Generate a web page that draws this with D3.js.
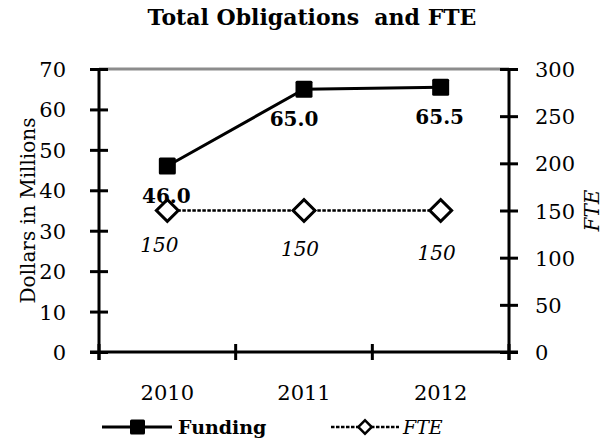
<!DOCTYPE html>
<html>
<head>
<meta charset="utf-8">
<script src="https://cdn.jsdelivr.net/npm/d3@7"></script>
<style>
  body { margin: 0; background: #fff; }
  svg { display: block; }
  text { font-family: "DejaVu Serif", serif; fill: #000; }
</style>
</head>
<body>
<div id="chart"></div>
<script>
// chart data
var years = ["2010", "2011", "2012"];
var funding = [46.0, 65.0, 65.5];
var fte = [150, 150, 150];
var leftTicks = [0, 10, 20, 30, 40, 50, 60, 70];
var rightTicks = [0, 50, 100, 150, 200, 250, 300];

var width = 613, height = 444;
var margin = {top: 69, right: 104, bottom: 92, left: 99};
var plotW = width - margin.left - margin.right,
    plotH = height - margin.top - margin.bottom;

var svg = d3.select("#chart").append("svg")
    .attr("width", width)
    .attr("height", height);

var x = d3.scaleBand().domain(years).range([0, plotW]).padding(0);
var yL = d3.scaleLinear().domain([0, 70]).range([plotH, 0]);
var yR = d3.scaleLinear().domain([0, 300]).range([plotH, 0]);

// title (double space kept as in the original)
svg.append("text")
    .attr("x", 312).attr("y", 25)
    .attr("text-anchor", "middle")
    .style("font-weight", "bold")
    .style("font-size", "22px")
    .style("white-space", "pre")
    .text("Total Obligations  and FTE");

var g = svg.append("g")
    .attr("transform", "translate(" + margin.left + "," + margin.top + ")");

// top gridline (gray)
g.append("line")
    .attr("x1", 0).attr("x2", plotW)
    .attr("y1", yL(70)).attr("y2", yL(70))
    .style("stroke", "#8c8c8c")
    .style("stroke-width", 3);

// left axis
var leftAxis = g.append("g").attr("class", "y axis")
    .call(d3.axisLeft(yL).tickValues(leftTicks).tickSize(0).tickPadding(0));
leftAxis.select(".domain").remove();
leftAxis.selectAll(".tick line")
    .attr("x1", -9).attr("x2", 9)
    .style("stroke", "#000").style("stroke-width", 3);
leftAxis.selectAll(".tick text")
    .attr("x", -33).attr("dy", "0.36em")
    .style("font-size", "21px").style("font-family", "DejaVu Serif");
leftAxis.append("line")
    .attr("x1", 0).attr("x2", 0).attr("y1", -1).attr("y2", plotH + 8)
    .style("stroke", "#000").style("stroke-width", 3);

// right axis
var rightAxis = g.append("g").attr("class", "y axis")
    .attr("transform", "translate(" + plotW + ",0)")
    .call(d3.axisRight(yR).tickValues(rightTicks).tickSize(0).tickPadding(0));
rightAxis.select(".domain").remove();
rightAxis.selectAll(".tick line")
    .attr("x1", -9).attr("x2", 9)
    .style("stroke", "#000").style("stroke-width", 3);
rightAxis.selectAll(".tick text")
    .attr("x", 26).attr("dy", "0.36em")
    .style("font-size", "21px").style("font-family", "DejaVu Serif");
rightAxis.append("line")
    .attr("x1", 0).attr("x2", 0).attr("y1", -1).attr("y2", plotH + 8)
    .style("stroke", "#000").style("stroke-width", 3);

// bottom axis: labels at category centres, ticks at boundaries
var bottomAxis = g.append("g")
    .attr("transform", "translate(0," + plotH + ")")
    .call(d3.axisBottom(x).tickSize(0).tickPadding(0));
bottomAxis.select(".domain").remove();
bottomAxis.selectAll(".tick text")
    .attr("y", 48).attr("dy", 0)
    .style("font-size", "21px").style("font-family", "DejaVu Serif");
bottomAxis.append("line")
    .attr("x1", -9).attr("x2", plotW + 9)
    .style("stroke", "#000").style("stroke-width", 3);
var bounds = years.map(function(d) { return x(d); }).concat([plotW]);
bottomAxis.selectAll(".bound")
    .data(bounds)
  .enter().append("line")
    .attr("class", "bound")
    .attr("x1", function(d) { return d; })
    .attr("x2", function(d) { return d; })
    .attr("y1", -8).attr("y2", 8)
    .style("stroke", "#000").style("stroke-width", 3);

// axis titles
svg.append("text")
    .attr("transform", "translate(35," + (margin.top + plotH / 2) + ") rotate(-90)")
    .attr("text-anchor", "middle")
    .style("font-size", "20px")
    .text("Dollars in Millions");
svg.append("text")
    .attr("transform", "translate(599," + (margin.top + plotH / 2) + ") rotate(-90)")
    .attr("text-anchor", "middle")
    .style("font-size", "20px")
    .style("font-style", "italic")
    .text("FTE");

var cx = function(d, i) { return x(years[i]) + x.bandwidth() / 2; };

// FTE series (dashed, hollow diamonds)
var fteLine = d3.line()
    .x(function(d, i) { return cx(d, i); })
    .y(function(d) { return yR(d); });
g.append("path")
    .datum(fte)
    .attr("d", fteLine)
    .style("fill", "none")
    .style("stroke", "#000")
    .style("stroke-width", 2.5)
    .style("stroke-dasharray", "3.5,1.5");
var diamond = d3.symbol().type(d3.symbolSquare).size(240);
g.selectAll(".fte-pt")
    .data(fte)
  .enter().append("path")
    .attr("class", "fte-pt")
    .attr("d", diamond)
    .attr("transform", function(d, i) {
      return "translate(" + cx(d, i) + "," + yR(d) + ") rotate(45)";
    })
    .style("fill", "#fff")
    .style("stroke", "#000")
    .style("stroke-width", 3);
g.selectAll(".fte-lbl")
    .data(fte)
  .enter().append("text")
    .attr("class", "fte-lbl")
    .attr("x", function(d, i) { return cx(d, i) - (i == 0 ? 8 : 4); })
    .attr("y", function(d, i) { return yR(d) + 41 + i * 4; })
    .attr("text-anchor", "middle")
    .style("font-size", "20px")
    .style("font-style", "italic")
    .text(function(d) { return d; });

// Funding series (solid, filled squares)
var fundLine = d3.line()
    .x(function(d, i) { return cx(d, i); })
    .y(function(d) { return yL(d); });
g.append("path")
    .datum(funding)
    .attr("d", fundLine)
    .style("fill", "none")
    .style("stroke", "#000")
    .style("stroke-width", 3);
g.selectAll(".fund-pt")
    .data(funding)
  .enter().append("rect")
    .attr("class", "fund-pt")
    .attr("x", function(d, i) { return cx(d, i) - 8.5; })
    .attr("y", function(d) { return yL(d) - 8.5; })
    .attr("width", 17).attr("height", 17)
    .attr("rx", 1.5)
    .style("fill", "#000");
g.selectAll(".fund-lbl")
    .data(funding)
  .enter().append("text")
    .attr("class", "fund-lbl")
    .attr("x", function(d, i) { return cx(d, i) - (i == 1 ? 10 : 1); })
    .attr("y", function(d) { return yL(d) + 37; })
    .attr("text-anchor", "middle")
    .style("font-size", "20px")
    .style("font-weight", "bold")
    .text(function(d) { return d3.format(".1f")(d); });

// legend
var leg = svg.append("g").attr("transform", "translate(0,427)");
leg.append("line")
    .attr("x1", 102).attr("x2", 172)
    .style("stroke", "#000").style("stroke-width", 3);
leg.append("rect")
    .attr("x", 130).attr("y", -7.5).attr("width", 15).attr("height", 15)
    .attr("rx", 1.5).style("fill", "#000");
leg.append("text")
    .attr("x", 178).attr("y", 7)
    .style("font-size", "19px").style("font-weight", "bold")
    .text("Funding");
leg.append("line")
    .attr("x1", 331).attr("x2", 399)
    .style("stroke", "#000").style("stroke-width", 2.5)
    .style("stroke-dasharray", "3.5,1.5");
leg.append("path")
    .attr("d", d3.symbol().type(d3.symbolSquare).size(90))
    .attr("transform", "translate(365,0) rotate(45)")
    .style("fill", "#fff").style("stroke", "#000").style("stroke-width", 2.5);
leg.append("text")
    .attr("x", 403).attr("y", 7)
    .style("font-size", "19px").style("font-style", "italic")
    .text("FTE");
</script>
</body>
</html>
